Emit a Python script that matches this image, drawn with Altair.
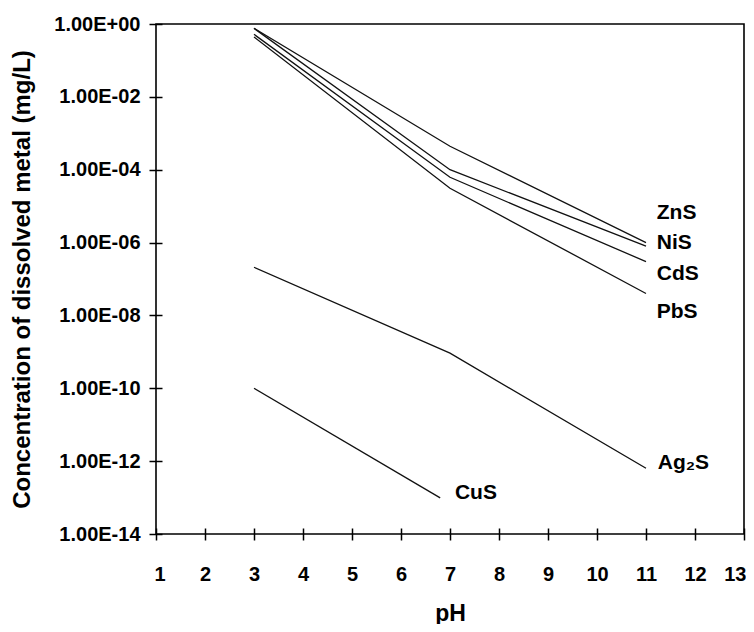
import altair as alt
import pandas as pd

# ---- data ----
series_names = ["ZnS", "NiS", "CdS", "PbS", "Ag2S", "CuS"]
ph_points = {
    "ZnS": [3, 7, 11],
    "NiS": [3, 7, 11],
    "CdS": [3, 7, 11],
    "PbS": [3, 7, 11],
    "Ag2S": [3, 7, 11],
    "CuS": [3, 6.8],
}
znS_conc = [0.76, 4.4e-4, 1.0e-6]
niS_conc = [0.76, 1.0e-4, 8.0e-7]
cdS_conc = [0.52, 6.2e-5, 3.0e-7]
pbS_conc = [0.44, 3.1e-5, 4.0e-8]
ag2S_conc = [2.1e-7, 9.2e-10, 6.4e-13]
cuS_conc = [1.0e-10, 9.8e-14]
concs = {"ZnS": znS_conc, "NiS": niS_conc, "CdS": cdS_conc,
         "PbS": pbS_conc, "Ag2S": ag2S_conc, "CuS": cuS_conc}

label_texts = ["ZnS", "NiS", "CdS", "PbS", "Ag\u2082S", "CuS"]
label_ph = [11.22, 11.22, 11.22, 11.22, 11.24, 7.1]
label_conc = [6.4e-6, 1.0e-6, 1.4e-7, 1.25e-8, 8.7e-13, 1.35e-13]

x_ticks = list(range(1, 14))
y_ticks = [1e0, 1e-2, 1e-4, 1e-6, 1e-8, 1e-10, 1e-12, 1e-14]
y_tick_labels = ["1.00E+00", "1.00E-02", "1.00E-04", "1.00E-06",
                 "1.00E-08", "1.00E-10", "1.00E-12", "1.00E-14"]

rows = []
for s in series_names:
    for p, c in zip(ph_points[s], concs[s]):
        rows.append({"series": s, "pH": p, "conc": c})
lines_df = pd.DataFrame(rows)
labels_df = pd.DataFrame({"label": label_texts, "pH": label_ph, "conc": label_conc})

FONT = "Liberation Sans"
label_expr = "[" + ",".join("'%s'" % t for t in y_tick_labels) + "][round(-log(datum.value)/LN10/2)]"

x_enc = alt.X("pH:Q",
              scale=alt.Scale(domain=[1, 13], nice=False, zero=False),
              axis=alt.Axis(values=x_ticks, format="d", title="pH", grid=False,
                            domain=False, offset=-6, tickSize=12, tickColor="black",
                            tickWidth=1.5, labelPadding=24, labelFont=FONT,
                            labelFontSize=20, labelFontWeight="bold", labelColor="black",
                            titleFont=FONT, titleFontSize=23, titleFontWeight="bold",
                            titleColor="black", titlePadding=18, labelFlush=True,
                            labelFlushOffset=2))
y_enc = alt.Y("conc:Q",
              scale=alt.Scale(type="log", domain=[1e-14, 1], nice=False),
              axis=alt.Axis(values=y_ticks, labelExpr=label_expr,
                            title="Concentration of dissolved metal (mg/L)", grid=False,
                            domain=False, offset=-6, tickSize=13, tickColor="black",
                            tickWidth=1.5, labelPadding=9, labelFont=FONT,
                            labelFontSize=20, labelFontWeight="bold", labelColor="black",
                            titleFont=FONT, titleFontSize=24, titleFontWeight="bold",
                            titleColor="black", titlePadding=19, labelFlush=False))

lines = alt.Chart(lines_df).mark_line(color="#111111", strokeWidth=1.3).encode(
    x=x_enc, y=y_enc, detail="series:N", order="pH:Q")

labels = alt.Chart(labels_df).mark_text(
    align="left", baseline="middle", font=FONT, fontSize=21, fontWeight="bold",
    color="black").encode(x="pH:Q", y="conc:Q", text="label:N")

chart = alt.layer(lines, labels).properties(
    width=588, height=510,
    autosize=alt.AutoSizeParams(type="none"),
    padding={"left": 148, "top": 16, "right": 2, "bottom": 90},
    background="white",
).configure_view(stroke="black", strokeWidth=1.6)

chart.save("out.html", embed_options={"renderer": "svg", "actions": False})
